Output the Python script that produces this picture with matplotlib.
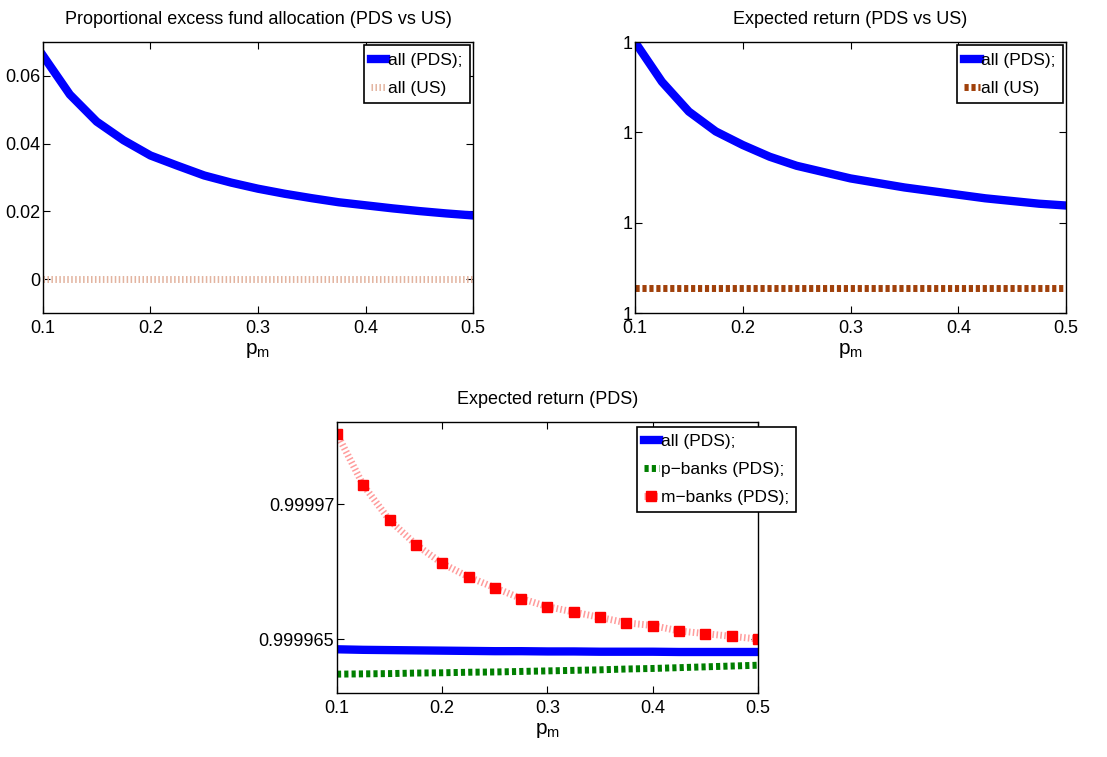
import numpy as np
import matplotlib
matplotlib.use("Agg")
import matplotlib.pyplot as plt

plt.rcParams['font.family'] = ['Liberation Sans', 'DejaVu Sans']

# p_m values (step 0.025)
pm = [0.1, 0.125, 0.15, 0.175, 0.2, 0.225, 0.25, 0.275, 0.3, 0.325,
      0.35, 0.375, 0.4, 0.425, 0.45, 0.475, 0.5]

# Proportional excess fund allocation
alloc_pds = [0.066, 0.0545, 0.0465, 0.041, 0.0365, 0.0335, 0.0306, 0.0285, 0.0267,
             0.0252, 0.0239, 0.0227, 0.0218, 0.0209, 0.0201, 0.0194, 0.0188]
alloc_us = [0.0] * 17

# Expected return (PDS vs US)
ret_all_pds = [0.99997, 0.9999656, 0.9999623, 0.9999601, 0.9999586, 0.9999573,
               0.9999563, 0.9999556, 0.9999549, 0.9999544, 0.9999539, 0.9999535,
               0.9999531, 0.9999527, 0.9999524, 0.9999521, 0.9999519]
ret_all_us = [0.9999428] * 17

# Expected return (PDS) by bank type
pds_all = [0.99996462, 0.99996460, 0.99996459, 0.99996458, 0.99996457, 0.99996456,
           0.99996455, 0.99996455, 0.99996454, 0.99996454, 0.99996453, 0.99996453,
           0.99996453, 0.99996452, 0.99996452, 0.99996452, 0.99996452]
pds_p = [0.99996370, 0.99996371, 0.99996372, 0.99996374, 0.99996375, 0.99996377,
         0.99996378, 0.99996380, 0.99996382, 0.99996384, 0.99996386, 0.99996389,
         0.99996391, 0.99996394, 0.99996397, 0.99996400, 0.99996403]
pds_m = [0.9999726, 0.9999707, 0.9999694, 0.9999685, 0.9999678, 0.9999673,
         0.9999669, 0.9999665, 0.9999662, 0.999966, 0.9999658, 0.9999656,
         0.9999655, 0.9999653, 0.9999652, 0.9999651, 0.999965]

xticks = [0.1, 0.2, 0.3, 0.4, 0.5]
xticklabels = ['0.1', '0.2', '0.3', '0.4', '0.5']

fig = plt.figure(figsize=(11.07, 7.57), dpi=100)


def style_axes(ax, title):
    ax.set_xlim(0.1, 0.5)
    ax.set_xticks(xticks)
    ax.set_xticklabels(xticklabels)
    ax.tick_params(direction='in', top=True, right=True, labelsize=13,
                   length=5, width=0.8)
    ax.tick_params(axis='x', pad=5)
    ax.tick_params(axis='y', pad=2)
    for s in ax.spines.values():
        s.set_linewidth(1.0)
    ax.set_title(title, fontsize=13, pad=13)
    ax.set_xlabel(r'$\mathregular{p_m}$', fontsize=15, labelpad=3)


def add_legend(ax, pad=0.2, **kw):
    leg = ax.legend(fontsize=12.5, fancybox=False, edgecolor='black',
                    framealpha=1, borderpad=0.4, handlelength=0.9,
                    handletextpad=0.1, labelspacing=0.75, borderaxespad=pad, **kw)
    leg.get_frame().set_linewidth(1.2)
    return leg


# top left
ax1 = fig.add_axes([0.0388, 0.5865, 0.3885, 0.358])
ax1.plot(pm, alloc_pds, color='blue', lw=6, label='all (PDS);')
l, = ax1.plot(pm, alloc_us, color='#e3b4a0', lw=5, label='all (US)',
              dash_capstyle='butt')
l.set_dashes([0.22, 0.35])
ax1.set_ylim(-0.01, 0.07)
ax1.set_yticks([0, 0.02, 0.04, 0.06])
ax1.set_yticklabels(['0', '0.02', '0.04', '0.06'])
style_axes(ax1, 'Proportional excess fund allocation (PDS vs US)')
add_legend(ax1, loc='upper right')

# top right
ax2 = fig.add_axes([0.5736, 0.5865, 0.3894, 0.358])
ax2.plot(pm, ret_all_pds, color='blue', lw=6, label='all (PDS);')
l, = ax2.plot(pm, ret_all_us, color='#a0400a', lw=5, label='all (US)',
              dash_capstyle='butt')
l.set_dashes([0.6, 0.4])
ax2.set_ylim(0.99994, 0.99997)
ax2.set_yticks([0.99994, 0.99995, 0.99996, 0.99997])
ax2.set_yticklabels(['1', '1', '1', '1'])
style_axes(ax2, 'Expected return (PDS vs US)')
add_legend(ax2, loc='upper right')

# bottom
ax3 = fig.add_axes([0.3044, 0.0845, 0.3803, 0.358])
ax3.plot(pm, pds_all, color='blue', lw=6, label='all (PDS);')
l, = ax3.plot(pm, pds_p, color='#007f00', lw=5, label='p\u2212banks (PDS);',
              dash_capstyle='butt')
l.set_dashes([0.6, 0.45])
l, = ax3.plot(pm, pds_m, color='#ff9c9c', lw=5, label='m\u2212banks (PDS);',
              dash_capstyle='butt', marker='s', markersize=7,
              markerfacecolor='red', markeredgecolor='red')
l.set_dashes([0.22, 0.35])
ax3.set_ylim(0.999963, 0.999973037)
ax3.set_yticks([0.999965, 0.99997])
ax3.set_yticklabels(['0.999965', '0.99997'])
style_axes(ax3, 'Expected return (PDS)')
add_legend(ax3, pad=0, loc='upper left', bbox_to_anchor=(0.712, 0.982))

fig.savefig('out.png', dpi=100)
